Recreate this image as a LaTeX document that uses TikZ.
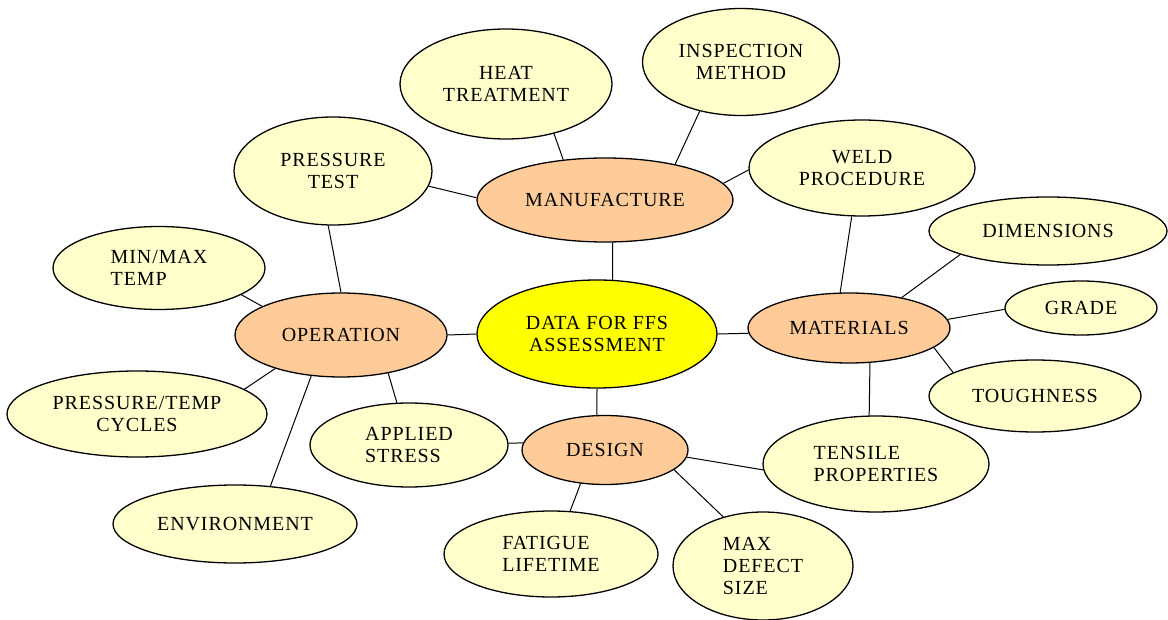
\documentclass[tikz,border=0pt]{standalone}
\usepackage{fontspec}
\setmainfont{Liberation Serif}[LetterSpace=4.5]
\usetikzlibrary{shapes.geometric}
\definecolor{corefill}{HTML}{FFFF00}
\definecolor{hubfill}{HTML}{FFCC99}
\definecolor{leaffill}{HTML}{FFFFCC}

\begin{document}
\begin{tikzpicture}[
    x=0.5pt, y=-0.5pt,
    % --- Node styles ---
    bubble/.style={
      ellipse, draw=black, line width=0.65pt,
      inner sep=0pt, align=center,
      font=\fontsize{10}{11}\selectfont,
    },
    core/.style={bubble, fill=corefill},
    hub/.style={bubble, fill=hubfill},
    leaf/.style={bubble, fill=leaffill},
    dims/.style 2 args={minimum width=#1*0.5pt, minimum height=#2*0.5pt},
    % --- Connector style ---
    link/.style={line width=0.5pt, draw=black},
  ]

    \useasboundingbox (0,0) rectangle (1168,620);

    % ===================== CENTRE AND HUBS =====================
    \node[core, dims={240}{108}] (data)  at (597,334) {DATA FOR FFS\\ASSESSMENT};
    \node[hub,  dims={256}{84}]  (manuf) at (605,200) {MANUFACTURE};
    \node[hub,  dims={212}{84}]  (oper)  at (341,335) {OPERATION};
    \node[hub,  dims={202}{70}]  (mater) at (849,328) {MATERIALS};
    \node[hub,  dims={166}{69}]  (design) at (605,450) {DESIGN};

    % ===================== MANUFACTURE LEAVES =====================
    \node[leaf, dims={212}{110}] (heat)  at (506,84)  {HEAT\\TREATMENT};
    \node[leaf, dims={197}{107}] (insp)  at (741,62)  {INSPECTION\\METHOD};
    \node[leaf, dims={198}{108}] (ptest) at (333,171) {PRESSURE\\TEST};
    \node[leaf, dims={226}{96}]  (weld)  at (862,168) {WELD\\PROCEDURE};

    % ===================== OPERATION LEAVES =====================
    \node[leaf, dims={212}{83}, align=left] (temp)   at (159,268) {MIN/MAX\\TEMP};
    \node[leaf, dims={260}{86}]             (cycles) at (137,414) {PRESSURE/TEMP\\CYCLES};
    \node[leaf, dims={244}{78}]             (envir)  at (235,524) {ENVIRONMENT};

    % ===================== DESIGN LEAVES =====================
    \node[leaf, dims={198}{84}, align=left]  (stress)  at (409,445) {APPLIED\\STRESS};
    \node[leaf, dims={214}{86}, align=left]  (fatigue) at (551,554) {FATIGUE\\LIFETIME};
    \node[leaf, dims={180}{108}, align=left] (defect)  at (763,566) {MAX\\DEFECT\\SIZE};

    % ===================== MATERIALS LEAVES =====================
    \node[leaf, dims={238}{68}]             (dimen)   at (1048,231) {DIMENSIONS};
    \node[leaf, dims={152}{54}]             (grade)   at (1081,308) {GRADE};
    \node[leaf, dims={212}{72}]             (tough)   at (1035,396) {TOUGHNESS};
    \node[leaf, dims={226}{96}, align=left] (tensile) at (876,464)  {TENSILE\\PROPERTIES};

    % ===================== LINKS: CENTRE TO HUBS =====================
    \draw[link] (data.74.5) -- (manuf.-80.5);
    \draw[link] (data.west) -- (oper.east);
    \draw[link] (data.east) -- (mater.183);
    \draw[link] (data.-90)  -- (design.103);

    % Manufacture
    \draw[link] (manuf.136)  -- (heat.-46);
    \draw[link] (manuf.27.5) -- (insp.-130);
    \draw[link] (manuf.179)  -- (ptest.-9.6);
    \draw[link] (manuf.8.7)  -- (weld.181.5);

    % Operation
    \draw[link] (oper.90)   -- (ptest.-95);
    \draw[link] (oper.160)  -- (temp.-18.4);
    \draw[link] (oper.-153) -- (cycles.13);
    \draw[link] (oper.-126) -- (envir.47);
    \draw[link] (oper.-39)  -- (stress.106);

    % Design
    \draw[link] (design.175)   -- (stress.1);
    \draw[link] (design.-126)  -- (fatigue.66.8);
    \draw[link] (design.-16.4) -- (defect.129);
    \draw[link] (design.-5.5)  -- (tensile.183);

    % Materials
    \draw[link] (mater.104)   -- (weld.-102);
    \draw[link] (mater.30)    -- (dimen.-165.5);
    \draw[link] (mater.5.2)   -- (grade.181.5);
    \draw[link] (mater.-13.9) -- (tough.164);
    \draw[link] (mater.-59.5) -- (tensile.98);

  \end{tikzpicture}
\end{document}
